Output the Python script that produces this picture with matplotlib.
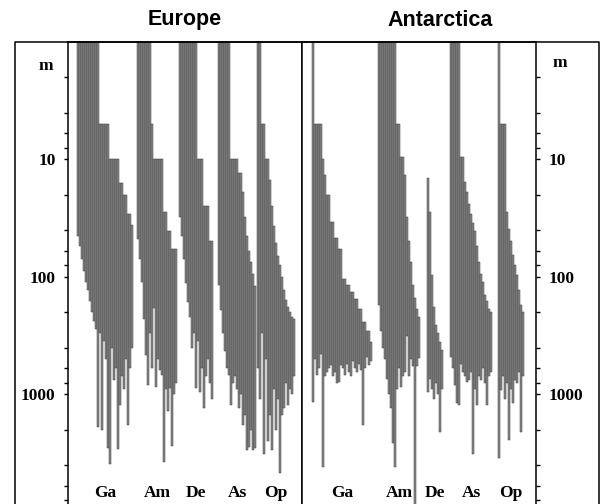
import matplotlib.pyplot as plt
from matplotlib.lines import Line2D
from matplotlib.ticker import FixedLocator, NullFormatter

# taxa groups, same order in both panels
groups = ['Ga', 'Am', 'De', 'As', 'Op']

# Europe: upper / lower depth limit (m) of each species, sorted by upper limit
eu_ga_top = [1, 1, 1, 1, 1, 1, 1, 1, 1, 1, 1, 5, 5, 5, 5, 5, 10, 10, 10, 10, 10, 16, 16, 20, 20, 29, 29, 36]
eu_ga_bot = [45, 55, 70, 90, 110, 130, 160, 200, 240, 280, 1900, 300, 2000, 350, 500, 2850,
             3900, 400, 750, 600, 2900, 1230, 700, 900, 500, 1830, 600, 400]
eu_am_top = [1, 1, 1, 1, 1, 1, 1, 5, 10, 10, 10, 10, 10, 28, 28, 41, 41, 58, 58, 58]
eu_am_bot = [48, 70, 110, 230, 460, 830, 300, 600, 185, 870, 500, 620, 690, 3800, 900, 1400, 880, 2750, 1000, 800]
eu_de_top = [1, 1, 1, 1, 1, 1, 1, 1, 1, 10, 10, 10, 25, 25, 25, 50, 50]
eu_de_bot = [31, 45, 70, 113, 165, 220, 400, 300, 880, 350, 950, 600, 1300, 700, 500, 800, 1100]
eu_as_top = [1, 1, 1, 1, 1, 1, 10, 10, 10, 10, 13, 13, 19, 31, 45, 60, 75, 95, 120]
eu_as_bot = [117, 190, 300, 430, 600, 680, 1230, 800, 700, 900, 1300, 1000, 1830, 1500, 3000, 2800, 2000, 3000, 2850]
eu_op_top = [1, 1, 5, 5, 10, 10, 15, 25, 37, 51, 67, 80, 100, 130, 157, 180, 200, 218, 230]
eu_op_bot = [600, 1100, 300, 3200, 500, 2500, 1500, 3000, 900, 2000, 1100, 4700, 1500, 1300, 800, 1230, 900, 1000, 700]

# Antarctica
an_ga_top = [1, 5, 5, 5, 5, 10, 13.6, 20, 20, 34, 34, 47, 47, 58, 58, 104, 104, 117, 117,
             135, 135, 154, 154, 187, 187, 242, 242, 290, 290, 360]
an_ga_bot = [1160, 500, 680, 600, 450, 4200, 700, 650, 600, 560, 700, 650, 800, 780, 560, 600, 680,
             550, 650, 700, 520, 600, 650, 550, 620, 1830, 600, 480, 560, 520]
an_am_top = [1, 1, 1, 1, 1, 1, 1, 1, 1, 5, 5, 9.5, 9.5, 13.6, 31, 50, 75, 117, 150, 187, 220]
an_am_bot = [173, 290, 400, 500, 740, 1000, 1320, 2600, 4200, 900, 600, 860, 700, 650, 320, 700, 500, 580, 9000, 580, 490]
an_de_top = [14.5, 28, 96, 180, 255, 300, 360, 420]
an_de_bot = [950, 740, 900, 1100, 800, 1000, 2100, 900]
an_as_top = [1, 1, 1, 1, 1, 9.5, 9.5, 15.5, 19, 24, 29, 35, 41, 55, 75, 94, 110, 142, 160, 187, 200]
an_as_bot = [480, 600, 830, 1180, 1230, 550, 650, 700, 780, 750, 650, 3200, 900, 1230, 700, 750, 600, 800, 1230, 700, 650]
an_op_top = [1, 5, 5, 5, 28, 39, 50, 65, 80, 96, 130, 172, 200]
an_op_bot = [3500, 920, 700, 1100, 800, 2450, 900, 1180, 750, 800, 650, 2100, 700]

europe_tops = [eu_ga_top, eu_am_top, eu_de_top, eu_as_top, eu_op_top]
europe_bots = [eu_ga_bot, eu_am_bot, eu_de_bot, eu_as_bot, eu_op_bot]
antarctica_tops = [an_ga_top, an_am_top, an_de_top, an_as_top, an_op_top]
antarctica_bots = [an_ga_bot, an_am_bot, an_de_bot, an_as_bot, an_op_bot]

# space left before each group (in species widths)
europe_gaps = [4.5, 2, 1, 2.5, 0.5]
antarctica_gaps = [5, 3, 3.5, 3.5, 3]

W, H = 601, 504
SERIF = 'Liberation Serif'
SANS = 'Liberation Sans'
fill = '#8a8a8a'
edge = '#3a3a3a'

fig = plt.figure(figsize=(W / 100, H / 100), dpi=100)


def px_axes(x0, x1, y0, y1):
    return fig.add_axes([x0 / W, 1 - y1 / H, (x1 - x0) / W, (y1 - y0) / H])


def draw_panel(ax, tops, bots, gaps):
    x = 0
    for name, t, b, gap in zip(groups, tops, bots, gaps):
        x += gap
        xs = [x + i for i in range(len(t))]
        heights = [bb - tt for tt, bb in zip(t, b)]
        ax.bar(xs, heights, bottom=t, width=1, align='edge',
               color=fill, edgecolor=edge, linewidth=0.35)
        ax.text(x + len(t) / 2, 6900, name, ha='center', va='center',
                fontfamily=SERIF, fontweight='bold', fontsize=12.5)
        x += len(t)
    ax.set_yscale('log')
    ax.set_ylim(8600, 1)
    ax.set_xlim(0, 117)
    ax.set_xticks([])
    ax.spines['bottom'].set_visible(False)
    for s in ['left', 'right', 'top']:
        ax.spines[s].set_linewidth(1.1)
    ax.yaxis.set_major_locator(FixedLocator([10, 100, 1000]))
    minors = [m * d for d in (1, 10, 100, 1000) for m in (2, 4, 6, 8)]
    ax.yaxis.set_minor_locator(FixedLocator(minors))
    ax.yaxis.set_minor_formatter(NullFormatter())
    ax.set_yticklabels(['10', '100', '1000'], fontfamily=SERIF, fontweight='bold', fontsize=12.5)
    ax.tick_params(axis='y', which='both', direction='out', length=3, width=1, pad=6)


ax_eu = px_axes(68, 302, 42, 504)
ax_an = px_axes(302, 536, 42, 504)

draw_panel(ax_eu, europe_tops, europe_bots, europe_gaps)
draw_panel(ax_an, antarctica_tops, antarctica_bots, antarctica_gaps)

ax_eu.tick_params(axis='y', which='both', left=True, right=False, labelleft=True, labelright=False)
ax_an.tick_params(axis='y', which='both', left=False, right=True, labelleft=False, labelright=True)

# depth unit labels
fig.text(46 / W, 1 - 66 / H, 'm', ha='center', va='center',
         fontfamily=SERIF, fontweight='bold', fontsize=12.5)
fig.text(560 / W, 1 - 63 / H, 'm', ha='center', va='center',
         fontfamily=SERIF, fontweight='bold', fontsize=12.5)

fig.text(185 / W, 1 - 20 / H, 'Europe', ha='center', va='center',
         fontfamily=SANS, fontweight='bold', fontsize=15.5)
fig.text(440 / W, 1 - 20 / H, 'Antarctica', ha='center', va='center',
         fontfamily=SANS, fontweight='bold', fontsize=15.5)

# outer frame
frame_x = [15 / W, 15 / W, 599 / W, 599 / W]
frame_y = [0, 1 - 42 / H, 1 - 42 / H, 0]
fig.add_artist(Line2D(frame_x, frame_y, color='black', linewidth=1.1))

fig.savefig('out.png', dpi=100)
